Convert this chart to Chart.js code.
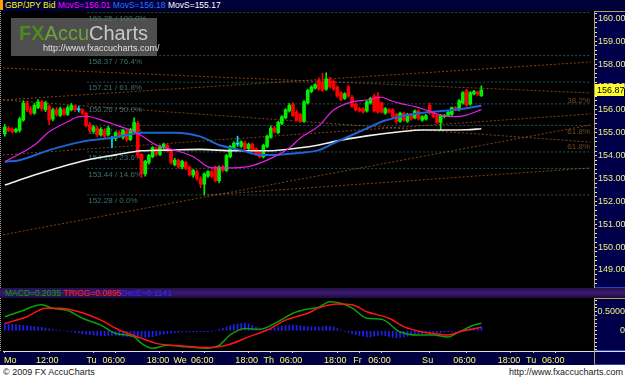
<!DOCTYPE html>
<html>
<head>
<meta charset="utf-8">
<title>GBP/JPY Bid</title>
<script src="https://cdn.jsdelivr.net/npm/chart.js@4.4.1/dist/chart.umd.min.js"></script>
<style>
  body { margin: 0; width: 625px; height: 379px; position: relative; overflow: hidden; background: #fff;
         font-family: "Liberation Sans", Arial, sans-serif; }
  .abs { position: absolute; }
  #title { left: 0; top: 0; width: 625px; height: 11px; background: #00003a; font-size: 8.5px; line-height: 11px; white-space: nowrap; }
  #title .mark { position: absolute; left: 0; top: 0; width: 3px; height: 10px; background: #ffa000; }
  #title .txt { position: absolute; left: 5px; top: 0; }
  #main { left: 0; top: 11px; width: 625px; height: 277px; background: #000; }
  .edge { position: absolute; left: 0; top: 0; width: 0; height: 100%; border-left: 1px dotted #aaa; }
  .axisPanel { position: absolute; background: #00004a; border-left: 1px solid #b4a458; border-top: 1px solid #b4a458;
               border-bottom: 1px solid #2244cc; box-sizing: border-box; }
  canvas { position: absolute; left: 0; top: 0; }
  #logo { left: 11px; top: 18px; width: 146px; height: 38px; background: rgba(100,100,100,0.78); }
  #logo .brand { position: absolute; left: 8px; top: 3px; font-size: 20px; line-height: 24px; white-space: nowrap; }
  #logo .fx { color: #4e8a1e; font-weight: bold; }
  #logo .accu { color: #6ea23a; }
  #logo .charts { color: #c8c8c8; }
  #logo .url { position: absolute; left: 32px; top: 25px; font-size: 9px; line-height: 10px; color: #e0e0e0; }
  #band { left: 0; top: 288px; width: 625px; height: 10px; background: linear-gradient(#241048, #3c1a72 50%, #1c0a3a);
          font-size: 8.5px; line-height: 10px; white-space: nowrap; }
  #band .txt { position: absolute; left: 5px; top: 0; }
  #sub { left: 0; top: 298px; width: 625px; height: 67px; }
  #subPlot { left: 0; top: 0; width: 625px; height: 53px; background: #000; }
  #xBand { left: 0; top: 53px; width: 625px; height: 14px; background: #000040; }
  #footer { left: 0; top: 365px; width: 625px; height: 14px; font-size: 9px; line-height: 14px; color: #202020; }
</style>
</head>
<body>

<div id="title" class="abs">
  <span class="mark"></span>
  <span class="txt"><span style="color:#ffff00">GBP/JPY Bid</span> <span style="color:#ff00ff">MovS=156.01</span> <span style="color:#2878ff">MovS=156.18</span> <span style="color:#ffffff">MovS=155.17</span></span>
</div>

<div id="main" class="abs">
  <div class="axisPanel" style="left:594px;top:0;width:31px;height:277px"></div>
  <div class="edge"></div>
  <canvas id="price" width="625" height="277"></canvas>
</div>

<div id="logo" class="abs">
  <div class="brand"><span class="fx">FX</span><span class="accu">Accu</span><span class="charts">Charts</span></div>
  <div class="url">http://www.fxaccucharts.com/</div>
</div>

<div id="band" class="abs">
  <span class="txt"><span style="color:#00a800">MACD=0.2035</span> <span style="color:#ff2020">TRIGG=0.0895</span><span style="color:#2a2aff">OscE=0.1141</span></span>
</div>

<div id="sub" class="abs">
  <div id="subPlot" class="abs"></div>
  <div id="xBand" class="abs"></div>
  <div class="axisPanel" style="left:594px;top:0;width:31px;height:53px"></div>
  <div class="axisPanel" style="left:594px;top:53px;width:31px;height:14px;border-top-color:#e0e0e0"></div>
  <div class="edge" style="height:53px"></div>
  <canvas id="macd" width="625" height="67"></canvas>
</div>

<div id="footer" class="abs">
  <span style="position:absolute;left:3px">© 2009 FX AccuCharts</span>
  <span style="position:absolute;right:2px">http://www.fxaccucharts.com</span>
</div>

<script>
// Hourly candles, bar index 0 = Monday 00:00 (weekend hours skipped)
const opens = [
  154.95, 155.20, 155.15, 155.05, 155.10, 155.55, 156.30, 156.05, 155.85, 156.10,
  156.35, 156.00, 156.15, 155.60, 156.00, 155.75, 156.00, 155.80, 156.00, 156.15,
  156.00, 156.00, 155.85, 155.35, 155.05, 155.20, 154.90, 155.10, 154.90, 154.75,
  154.75, 155.00, 154.80, 155.05, 154.70, 155.05, 155.40, 154.05, 153.20, 153.70,
  153.95, 154.30, 154.05, 154.35, 154.45, 154.20, 153.60, 153.80, 153.50, 153.70,
  153.50, 153.15, 153.30, 153.00, 152.75, 153.10, 153.30, 153.50, 152.90, 153.50,
  153.35, 153.95, 154.30, 154.50, 154.40, 154.55, 154.30, 154.50, 154.30, 154.15,
  153.95, 154.40, 154.80, 155.20, 155.00, 155.40, 155.65, 155.95, 156.25, 155.90,
  155.80, 155.50, 156.30, 156.80, 156.95, 157.30, 157.20, 156.90, 157.35, 157.25,
  157.00, 156.75, 156.50, 157.00, 156.55, 156.25, 156.05, 156.05, 155.95, 156.30,
  156.60, 156.60, 156.30, 155.85, 156.00, 156.00, 155.80, 155.50, 155.85, 155.50,
  155.80, 155.65, 155.95, 155.55, 155.60, 156.20, 155.85, 155.75, 155.45, 155.70,
  155.75, 155.80, 156.10, 156.00, 156.30, 156.85, 156.25, 156.70, 156.78, 156.62
];
const highs = [
  155.35, 155.28, 155.22, 155.20, 155.68, 156.40, 156.38, 156.15, 156.28, 156.45,
  156.42, 156.38, 156.22, 156.08, 156.10, 156.12, 156.08, 156.18, 156.28, 156.22,
  156.15, 156.05, 155.90, 155.45, 155.32, 155.28, 155.22, 155.18, 155.28, 154.85,
  155.05, 155.08, 155.15, 155.12, 155.20, 155.65, 155.50, 154.10, 153.80, 154.05,
  154.40, 154.38, 154.45, 154.55, 154.52, 154.25, 153.88, 153.85, 153.80, 153.75,
  153.55, 153.40, 153.38, 153.08, 153.25, 153.35, 153.38, 153.55, 153.55, 153.58,
  154.05, 154.45, 154.60, 154.85, 154.65, 154.62, 154.55, 154.55, 154.35, 154.20,
  154.50, 154.90, 155.30, 155.28, 155.50, 155.75, 156.05, 156.28, 156.32, 155.98,
  155.85, 156.40, 156.90, 157.05, 157.15, 157.40, 157.60, 157.62, 157.42, 157.32,
  157.05, 156.80, 156.75, 157.08, 156.62, 156.30, 156.12, 156.10, 156.40, 156.55,
  156.68, 156.75, 156.35, 156.10, 156.05, 156.05, 155.85, 155.90, 155.90, 155.85,
  155.85, 156.00, 156.00, 155.75, 155.80, 156.30, 155.90, 155.80, 155.80, 155.80,
  155.95, 156.12, 156.15, 156.45, 156.80, 156.90, 156.80, 156.85, 156.82, 157.05
];
const lows = [
  154.85, 155.05, 154.98, 155.00, 155.02, 155.50, 155.92, 155.78, 155.80, 156.05,
  155.95, 155.92, 155.35, 155.52, 155.72, 155.70, 155.75, 155.75, 155.95, 155.92,
  155.90, 155.78, 155.25, 155.02, 154.98, 154.82, 154.85, 154.78, 154.85, 154.35,
  154.65, 154.78, 154.72, 154.62, 154.65, 154.95, 153.90, 153.05, 153.10, 153.62,
  153.90, 153.98, 154.00, 154.28, 154.15, 153.62, 153.55, 153.45, 153.42, 153.38,
  153.10, 153.05, 152.92, 152.60, 152.28, 153.05, 153.02, 152.85, 152.80, 153.28,
  153.30, 153.90, 154.25, 154.40, 154.35, 154.22, 154.25, 154.15, 154.00, 153.90,
  153.90, 154.35, 154.75, 154.98, 154.95, 155.35, 155.60, 155.90, 155.70, 155.50,
  155.45, 155.45, 156.25, 156.75, 156.90, 156.85, 156.80, 156.85, 156.95, 156.85,
  156.55, 156.40, 156.45, 156.55, 156.10, 155.95, 155.90, 155.85, 155.90, 156.25,
  155.90, 155.85, 155.85, 155.80, 155.85, 155.65, 155.40, 155.45, 155.50, 155.45,
  155.55, 155.60, 155.55, 155.50, 155.55, 155.80, 155.65, 155.40, 155.10, 155.65,
  155.70, 155.75, 155.95, 155.95, 156.25, 156.15, 156.20, 156.65, 156.62, 156.58
];
const closes = [
  155.25, 155.10, 155.05, 155.15, 155.60, 156.30, 156.00, 155.85, 156.20, 156.35,
  156.05, 156.30, 155.55, 156.00, 155.80, 156.05, 155.80, 156.10, 156.20, 156.00,
  156.00, 155.85, 155.30, 155.10, 155.25, 154.90, 155.15, 154.85, 155.20, 154.75,
  155.00, 154.85, 155.10, 154.70, 155.15, 155.45, 154.00, 153.20, 153.75, 154.00,
  154.35, 154.05, 154.40, 154.50, 154.20, 153.70, 153.80, 153.50, 153.75, 153.45,
  153.15, 153.35, 153.00, 152.75, 153.20, 153.30, 153.10, 152.90, 153.50, 153.35,
  154.00, 154.40, 154.55, 154.50, 154.60, 154.30, 154.50, 154.20, 154.05, 153.95,
  154.45, 154.85, 155.20, 155.05, 155.45, 155.70, 156.00, 156.20, 155.75, 155.55,
  155.50, 156.35, 156.85, 157.00, 157.10, 156.90, 156.85, 157.35, 157.00, 156.90,
  156.60, 156.45, 156.70, 156.60, 156.15, 156.00, 155.95, 155.90, 156.35, 156.50,
  155.95, 155.90, 155.90, 156.05, 155.90, 155.70, 155.50, 155.85, 155.55, 155.80,
  155.60, 155.95, 155.60, 155.70, 155.75, 155.85, 155.70, 155.45, 155.75, 155.75,
  155.90, 156.10, 156.00, 156.40, 156.75, 156.20, 156.75, 156.80, 156.68, 156.87
];

// Moving averages, read at a few bar positions
const magentaIdx = [0, 8, 12, 17, 20, 22, 26, 30, 35, 38, 41, 46, 51, 56, 60, 66, 71, 77, 80, 85, 89, 94, 98, 102, 104, 107, 111, 114, 118, 122, 125, 129];
const magentaVals = [153.73, 154.46, 155.04, 155.48, 155.70, 155.72, 155.56, 155.34, 155.04, 154.77, 154.46, 154.24, 153.95, 153.46, 153.46, 153.52, 153.80, 154.33, 154.77, 155.30, 155.99, 156.35, 156.43, 156.55, 156.43, 156.28, 156.14, 155.99, 155.77, 155.70, 155.77, 156.01];
const blueIdx = [0, 4, 12, 21, 28, 33, 37, 46, 53, 58, 64, 69, 73, 80, 85, 89, 98, 102, 107, 112, 116, 121, 125, 129];
const blueVals = [153.73, 153.80, 154.24, 154.61, 154.76, 154.90, 155.00, 155.00, 154.83, 154.46, 154.24, 154.03, 154.03, 154.12, 154.24, 154.54, 155.19, 155.48, 155.70, 155.85, 155.92, 155.99, 156.07, 156.18];
const whiteIdx = [0, 8, 17, 22, 30, 37, 44, 53, 62, 71, 80, 85, 89, 98, 107, 113, 119, 125, 129];
const whiteVals = [152.71, 153.15, 153.59, 153.80, 154.03, 154.21, 154.24, 154.27, 154.21, 154.21, 154.34, 154.46, 154.61, 154.86, 155.04, 155.12, 155.12, 155.13, 155.17];

// Fibonacci retracement 152.28 -> 160.25
const fibLevels = [160.25, 158.37, 157.21, 156.26, 155.32, 154.16, 153.44, 152.28];
const fibPcts = ['100.0%', '76.4%', '61.8%', '50.0%', '38.2%', '23.6%', '14.6%', '0.0%'];
const fibFrom = 22.3;
const fibTo = 158.7;

// Trend / fan lines: [x1, price1, x2, price2]
const trendLines = [
  [-0.5, 150.54, 158.6, 155.34],
  [54.8, 152.28, 158.6, 153.46],
  [-0.5, 157.83, 158.6, 156.74],
  [-0.5, 156.43, 158.6, 158.09],
  [-0.5, 154.03, 158.6, 155.82],
  [-0.5, 156.43, 158.6, 154.59]
];
const trendTags = ['38.2%', '61.8%', '61.8%'];
const trendTagPrices = [156.39, 155.03, 154.37];

// MACD panel
const macdIdx = [0, 4, 10, 13, 17, 21, 26, 30, 35, 37, 40, 44, 49, 55, 58, 61, 65, 69, 74, 78, 81, 85, 88, 91, 94, 98, 102, 107, 112, 116, 120, 123, 127, 129];
const macdVals = [0.37, 0.50, 0.68, 0.59, 0.53, 0.33, 0.15, -0.07, -0.16, -0.33, -0.46, -0.38, -0.42, -0.46, -0.38, -0.11, 0.06, 0.04, 0.24, 0.46, 0.55, 0.62, 0.76, 0.72, 0.60, 0.33, 0.30, -0.03, -0.11, -0.11, -0.16, -0.03, 0.15, 0.20];
const trigIdx = [0, 6, 11, 15, 20, 26, 31, 37, 41, 48, 55, 60, 66, 71, 76, 82, 85, 90, 94, 98, 104, 108, 113, 116, 120, 123, 129];
const trigVals = [0.19, 0.37, 0.59, 0.59, 0.50, 0.28, 0.02, -0.20, -0.33, -0.40, -0.44, -0.38, -0.16, 0.02, 0.28, 0.46, 0.60, 0.70, 0.68, 0.50, 0.33, 0.11, -0.03, -0.07, -0.11, -0.03, 0.09];
const oscVals = [
  0.18, 0.17, 0.17, 0.16, 0.15, 0.14, 0.13, 0.12, 0.11, 0.10,
  0.09, 0.07, 0.05, 0.03, 0.02, 0.01, 0.00, -0.01, -0.02, -0.04,
  -0.06, -0.08, -0.09, -0.10, -0.11, -0.12, -0.13, -0.13, -0.12, -0.12,
  -0.12, -0.13, -0.14, -0.15, -0.16, -0.17, -0.18, -0.18, -0.17, -0.16,
  -0.15, -0.13, -0.11, -0.09, -0.07, -0.06, -0.05, -0.04, -0.03, -0.03,
  -0.03, -0.03, -0.02, -0.02, -0.02, -0.02, -0.01, 0.00, 0.03, 0.07,
  0.10, 0.13, 0.16, 0.18, 0.19, 0.20, 0.18, 0.14, 0.09, 0.05,
  0.03, 0.04, 0.06, 0.08, 0.10, 0.12, 0.14, 0.15, 0.15, 0.14,
  0.13, 0.12, 0.11, 0.10, 0.10, 0.10, 0.11, 0.12, 0.12, 0.10,
  0.06, 0.02, -0.01, -0.04, -0.07, -0.10, -0.12, -0.14, -0.16, -0.16,
  -0.14, -0.12, -0.11, -0.13, -0.15, -0.17, -0.18, -0.18, -0.16, -0.14,
  -0.11, -0.10, -0.09, -0.08, -0.07, -0.06, -0.06, -0.05, -0.05, -0.04,
  -0.03, -0.02, -0.01, 0.00, 0.02, 0.04, 0.06, 0.08, 0.10, 0.11
];

// Axis ticks
const priceTicks = [149, 150, 151, 152, 153, 154, 155, 156, 157, 158, 159, 160];
const macdTicks = [0, 0.5];
const timeTickIdx = [0, 12, 24, 30, 42, 48, 54, 66, 72, 78, 90, 96, 102, 115, 125, 137, 143, 149];
const timeTickText = ['Mo', '12:00', 'Tu', '06:00', '18:00', 'We', '06:00', '18:00', 'Th', '06:00', '18:00', 'Fr', '06:00', 'Su', '06:00', '18:00', 'Tu', '06:00'];

// ---- drawing ----
const FONT = '"Liberation Sans", Arial, sans-serif';
Chart.defaults.font.family = FONT;

const X_MIN = -0.5, X_MAX = 159.5;
const UP = '#00f000', DOWN = '#ff0000', FLAT = '#00e0ff';
const candleColor = (i) => closes[i] > opens[i] ? UP : (closes[i] < opens[i] ? DOWN : FLAT);
const candleColors = closes.map((c, i) => candleColor(i));
const pts = (idx, vals) => idx.map((x, i) => ({ x: x, y: vals[i] }));

function minorTicks(lo, hi, step) {
  const out = [];
  for (let v = lo; v <= hi + 1e-9; v += step) out.push({ value: Math.round(v * 100) / 100 });
  return out;
}

const fibDatasets = fibLevels.map(lv => ({
  type: 'line', data: [{ x: fibFrom, y: lv }, { x: fibTo, y: lv }],
  borderColor: '#2b5454', borderWidth: 1, borderDash: [2, 2], pointRadius: 0, order: 6
}));
const trendDatasets = trendLines.map(t => ({
  type: 'line', data: [{ x: t[0], y: t[1] }, { x: t[2], y: t[3] }],
  borderColor: 'rgba(176,88,24,0.75)', borderWidth: 1, borderDash: [2, 2], pointRadius: 0, order: 5
}));

const priceLabels = {
  id: 'priceLabels',
  beforeDatasetsDraw(chart) {
    const { ctx, scales: { x, y } } = chart;
    ctx.save();
    ctx.font = '8px ' + FONT;
    ctx.textBaseline = 'middle';
    ctx.fillStyle = '#3f6e6e';
    fibLevels.forEach((lv, i) => {
      ctx.fillText(lv.toFixed(2) + ' / ' + fibPcts[i], x.getPixelForValue(fibFrom) + 1, y.getPixelForValue(lv) + 6);
    });
    ctx.fillStyle = '#6e4a26';
    ctx.textAlign = 'right';
    trendTags.forEach((t, i) => {
      ctx.fillText(t, x.getPixelForValue(fibTo) - 1, y.getPixelForValue(trendTagPrices[i]));
    });
    ctx.restore();
  },
  afterDraw(chart) {
    const { ctx, scales: { y }, chartArea } = chart;
    const last = closes[closes.length - 1];
    const py = Math.round(y.getPixelForValue(last));
    ctx.save();
    ctx.fillStyle = '#ffff30';
    ctx.fillRect(chartArea.right + 1, py - 6, 29, 12);
    ctx.fillStyle = '#000';
    ctx.font = '9px ' + FONT;
    ctx.textBaseline = 'middle';
    ctx.fillText(last.toFixed(2), chartArea.right + 3, py + 0.5);
    ctx.restore();
  }
};

new Chart(document.getElementById('price'), {
  type: 'bar',
  data: {
    datasets: [
      { type: 'line', data: pts(magentaIdx, magentaVals), borderColor: '#e61ee6', borderWidth: 1.2,
        pointRadius: 0, cubicInterpolationMode: 'monotone', order: 0 },
      { type: 'line', data: pts(blueIdx, blueVals), borderColor: '#1e64d2', borderWidth: 2,
        pointRadius: 0, cubicInterpolationMode: 'monotone', order: 1 },
      { type: 'line', data: pts(whiteIdx, whiteVals), borderColor: '#f0f0f0', borderWidth: 1.6,
        pointRadius: 0, cubicInterpolationMode: 'monotone', order: 2 },
      { type: 'bar', data: opens.map((o, i) => ({ x: i, y: [o, closes[i]] })), backgroundColor: candleColors,
        barThickness: 3, minBarLength: 1, grouped: false, order: 3 },
      { type: 'bar', data: lows.map((l, i) => ({ x: i, y: [l, highs[i]] })), backgroundColor: candleColors,
        barThickness: 1, grouped: false, order: 4 },
      ...trendDatasets,
      ...fibDatasets
    ]
  },
  options: {
    responsive: false,
    animation: false,
    layout: { padding: { left: 3, right: 0, top: 0, bottom: 0 } },
    plugins: { legend: { display: false }, tooltip: { enabled: false } },
    scales: {
      x: { type: 'linear', min: X_MIN, max: X_MAX, offset: false, display: false, grid: { offset: false } },
      y: {
        position: 'right', min: 148.213, max: 160.319, beginAtZero: false,
        afterBuildTicks: s => { s.ticks = minorTicks(148.4, 160.2, 0.2); },
        afterFit: s => { s.width = 31; s.paddingTop = 0; s.paddingBottom = 0; },
        ticks: {
          autoSkip: false, color: '#f0f080', padding: 1, font: { size: 9 },
          callback: v => priceTicks.includes(Math.round(v * 100) / 100) ? v.toFixed(2) : ''
        },
        grid: { drawOnChartArea: false, tickLength: 3, color: '#dddddd' },
        border: { color: '#b4a458' }
      }
    }
  },
  plugins: [priceLabels]
});

new Chart(document.getElementById('macd'), {
  type: 'bar',
  data: {
    datasets: [
      { type: 'line', data: pts(macdIdx, macdVals), borderColor: '#0aa00a', borderWidth: 1.5,
        pointRadius: 0, cubicInterpolationMode: 'monotone', order: 1 },
      { type: 'line', data: pts(trigIdx, trigVals), borderColor: '#ff1414', borderWidth: 1.5,
        pointRadius: 0, cubicInterpolationMode: 'monotone', order: 0 },
      { type: 'bar', data: oscVals.map((v, i) => ({ x: i, y: v })), backgroundColor: '#1e1eff',
        barThickness: 1, grouped: false, order: 3 }
    ]
  },
  options: {
    responsive: false,
    animation: false,
    layout: { padding: { left: 3, right: 0, top: 0, bottom: 0 } },
    plugins: { legend: { display: false }, tooltip: { enabled: false } },
    scales: {
      x: {
        type: 'linear', min: X_MIN, max: X_MAX, offset: false,
        afterBuildTicks: s => { s.ticks = timeTickIdx.map(v => ({ value: v })); },
        afterFit: s => { s.height = 14; s.paddingLeft = 0; s.paddingRight = 0; },
        ticks: {
          autoSkip: false, maxRotation: 0, color: '#ffff60', padding: 2, labelOffset: -2, font: { size: 9 },
          callback: (v, i) => i === 0 ? '      ' + timeTickText[i] : timeTickText[i]
        },
        grid: { drawOnChartArea: false, tickLength: 2, color: '#cccccc', offset: false },
        border: { color: '#e0e0e0' }
      },
      y: {
        position: 'right', min: -0.53, max: 0.86, beginAtZero: false,
        afterBuildTicks: s => { s.ticks = minorTicks(-0.5, 0.8, 0.1); },
        afterFit: s => { s.width = 31; s.paddingTop = 0; s.paddingBottom = 0; },
        ticks: {
          autoSkip: false, color: '#f0f080', padding: 1, crossAlign: 'far', font: { size: 9 },
          callback: v => {
            const r = Math.round(v * 100) / 100;
            if (!macdTicks.includes(r)) return '';
            return r === 0 ? '0' : r.toFixed(4);
          }
        },
        grid: { drawOnChartArea: false, tickLength: 3, color: '#dddddd' },
        border: { color: '#b4a458' }
      }
    }
  }
});
</script>
</body>
</html>
